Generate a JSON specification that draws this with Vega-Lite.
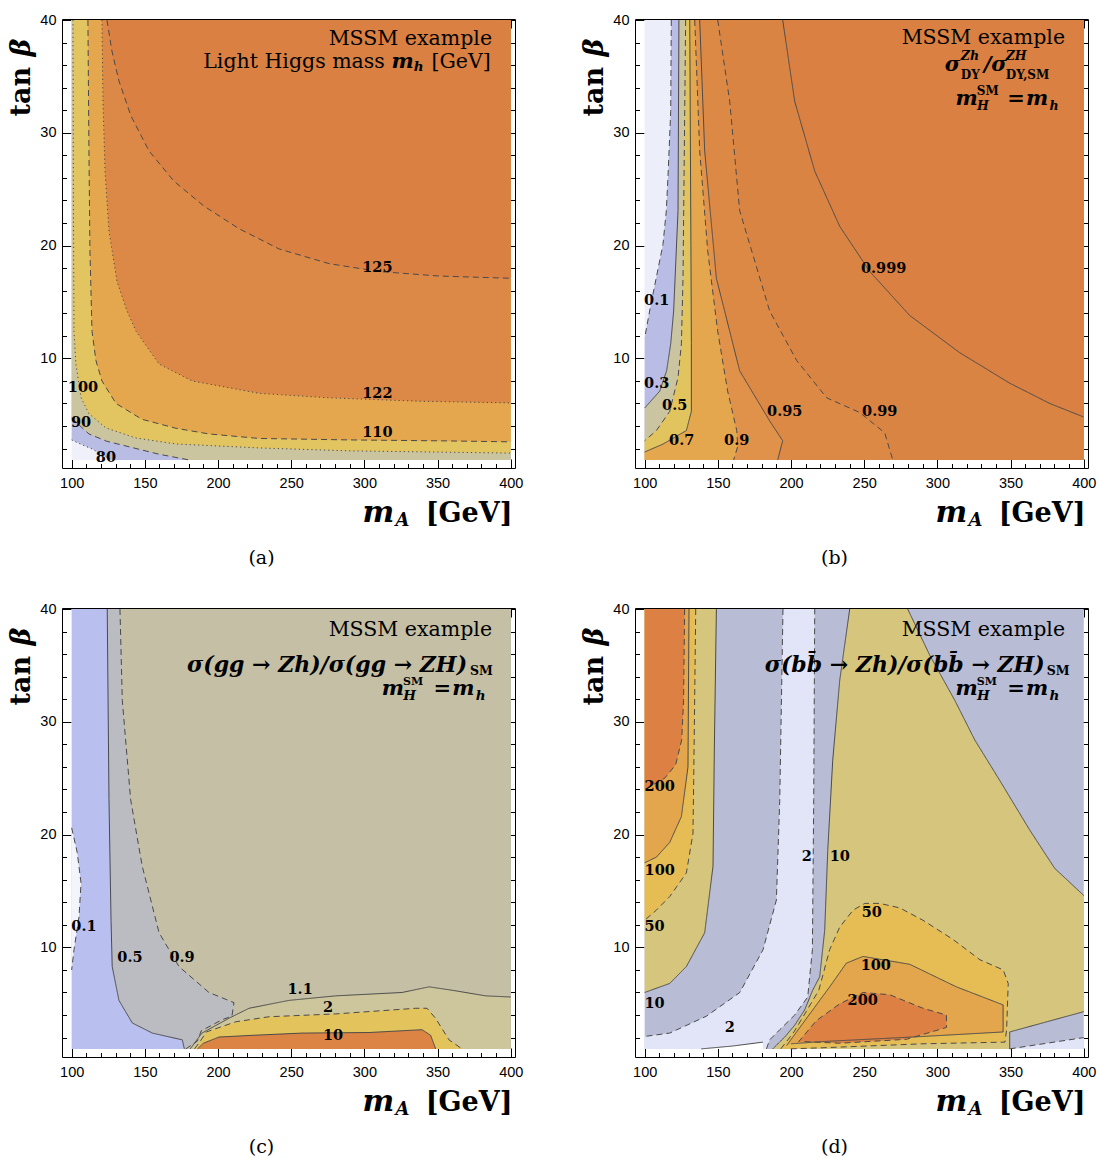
{
"$schema":"https://vega.github.io/schema/vega-lite/v6.json",
"background":"white",
"padding":{"left":6,"top":11,"right":0,"bottom":0},
"config":{
 "view":{"stroke":"#000","strokeWidth":1},
 "axis":{"domain":false,"grid":false,"tickColor":"#000","tickWidth":1,"labelFont":"Liberation Sans","labelFontSize":14.5,"labelColor":"#000","titleColor":"#000","titleFont":"DejaVu Serif"},
 "text":{"font":"DejaVu Serif","color":"#000"}
},
"resolve":{"scale":{"color":"independent","strokeDash":"independent"}},
"datasets":{
"A":[
{"shape":"A0","band":"<80","mA":100,"tanb":1},{"shape":"A0","band":"<80","mA":100,"tanb":40},{"shape":"A0","band":"<80","mA":400,"tanb":40},{"shape":"A0","band":"<80","mA":400,"tanb":1},
{"shape":"A80","band":"80–90","mA":100,"tanb":40},
{"shape":"A80","band":"80–90","mA":100,"tanb":2.77,"level":"80","run":"a80"},
{"shape":"A80","band":"80–90","mA":106,"tanb":2.4,"level":"80","run":"a80"},
{"shape":"A80","band":"80–90","mA":113.9,"tanb":1.97,"level":"80","run":"a80"},
{"shape":"A80","band":"80–90","mA":121,"tanb":1.45,"level":"80","run":"a80"},
{"shape":"A80","band":"80–90","mA":127.5,"tanb":1,"level":"80","run":"a80"},
{"shape":"A80","band":"80–90","mA":400,"tanb":1},{"shape":"A80","band":"80–90","mA":400,"tanb":40},
{"shape":"A90","band":"90–100","mA":100,"tanb":40},
{"shape":"A90","band":"90–100","mA":100,"tanb":4.7,"level":"90","run":"a90"},
{"shape":"A90","band":"90–100","mA":111.8,"tanb":3.3,"level":"90","run":"a90"},
{"shape":"A90","band":"90–100","mA":124,"tanb":2.65,"level":"90","run":"a90"},
{"shape":"A90","band":"90–100","mA":137.1,"tanb":2.23,"level":"90","run":"a90"},
{"shape":"A90","band":"90–100","mA":159.7,"tanb":1.5,"level":"90","run":"a90"},
{"shape":"A90","band":"90–100","mA":180,"tanb":1,"level":"90","run":"a90"},
{"shape":"A90","band":"90–100","mA":400,"tanb":1},{"shape":"A90","band":"90–100","mA":400,"tanb":40},
{"shape":"A100","band":"100–110","mA":100.9,"tanb":40,"level":"100","run":"a100"},
{"shape":"A100","band":"100–110","mA":101.2,"tanb":24,"level":"100","run":"a100"},
{"shape":"A100","band":"100–110","mA":101.6,"tanb":12.4,"level":"100","run":"a100"},
{"shape":"A100","band":"100–110","mA":102.9,"tanb":9.5,"level":"100","run":"a100"},
{"shape":"A100","band":"100–110","mA":106.4,"tanb":6.5,"level":"100","run":"a100"},
{"shape":"A100","band":"100–110","mA":111.8,"tanb":5.1,"level":"100","run":"a100"},
{"shape":"A100","band":"100–110","mA":123.4,"tanb":3.83,"level":"100","run":"a100"},
{"shape":"A100","band":"100–110","mA":143.9,"tanb":2.94,"level":"100","run":"a100"},
{"shape":"A100","band":"100–110","mA":171.3,"tanb":2.41,"level":"100","run":"a100"},
{"shape":"A100","band":"100–110","mA":228,"tanb":2.06,"level":"100","run":"a100"},
{"shape":"A100","band":"100–110","mA":289.5,"tanb":1.8,"level":"100","run":"a100"},
{"shape":"A100","band":"100–110","mA":400,"tanb":1.6,"level":"100","run":"a100"},
{"shape":"A100","band":"100–110","mA":400,"tanb":40},
{"shape":"A110","band":"110–122","mA":111.1,"tanb":40,"level":"110","run":"a110"},
{"shape":"A110","band":"110–122","mA":111.8,"tanb":28.4,"level":"110","run":"a110"},
{"shape":"A110","band":"110–122","mA":112.5,"tanb":19.5,"level":"110","run":"a110"},
{"shape":"A110","band":"110–122","mA":113.9,"tanb":12.4,"level":"110","run":"a110"},
{"shape":"A110","band":"110–122","mA":116.6,"tanb":9.8,"level":"110","run":"a110"},
{"shape":"A110","band":"110–122","mA":120.7,"tanb":8,"level":"110","run":"a110"},
{"shape":"A110","band":"110–122","mA":130.3,"tanb":6,"level":"110","run":"a110"},
{"shape":"A110","band":"110–122","mA":148,"tanb":4.6,"level":"110","run":"a110"},
{"shape":"A110","band":"110–122","mA":171.3,"tanb":3.8,"level":"110","run":"a110"},
{"shape":"A110","band":"110–122","mA":193.8,"tanb":3.3,"level":"110","run":"a110"},
{"shape":"A110","band":"110–122","mA":228,"tanb":2.9,"level":"110","run":"a110"},
{"shape":"A110","band":"110–122","mA":289.5,"tanb":2.77,"level":"110","run":"a110"},
{"shape":"A110","band":"110–122","mA":357.8,"tanb":2.68,"level":"110","run":"a110"},
{"shape":"A110","band":"110–122","mA":400,"tanb":2.6,"level":"110","run":"a110"},
{"shape":"A110","band":"110–122","mA":400,"tanb":40},
{"shape":"A122","band":"122–125","mA":120.7,"tanb":40,"level":"122","run":"a122"},
{"shape":"A122","band":"122–125","mA":121.4,"tanb":32.8,"level":"122","run":"a122"},
{"shape":"A122","band":"122–125","mA":122.8,"tanb":26.6,"level":"122","run":"a122"},
{"shape":"A122","band":"122–125","mA":125.5,"tanb":21.3,"level":"122","run":"a122"},
{"shape":"A122","band":"122–125","mA":131,"tanb":16.8,"level":"122","run":"a122"},
{"shape":"A122","band":"122–125","mA":137.8,"tanb":14.2,"level":"122","run":"a122"},
{"shape":"A122","band":"122–125","mA":144,"tanb":12.4,"level":"122","run":"a122"},
{"shape":"A122","band":"122–125","mA":159.7,"tanb":9.5,"level":"122","run":"a122"},
{"shape":"A122","band":"122–125","mA":182.3,"tanb":8,"level":"122","run":"a122"},
{"shape":"A122","band":"122–125","mA":228,"tanb":6.9,"level":"122","run":"a122"},
{"shape":"A122","band":"122–125","mA":275.9,"tanb":6.5,"level":"122","run":"a122"},
{"shape":"A122","band":"122–125","mA":337.4,"tanb":6.2,"level":"122","run":"a122"},
{"shape":"A122","band":"122–125","mA":400,"tanb":6.05,"level":"122","run":"a122"},
{"shape":"A122","band":"122–125","mA":400,"tanb":40},
{"shape":"A125","band":">125","mA":124.1,"tanb":40,"level":"125","run":"a125"},
{"shape":"A125","band":">125","mA":127.5,"tanb":37.25,"level":"125","run":"a125"},
{"shape":"A125","band":">125","mA":132.3,"tanb":34.6,"level":"125","run":"a125"},
{"shape":"A125","band":">125","mA":140.5,"tanb":31.5,"level":"125","run":"a125"},
{"shape":"A125","band":">125","mA":152.8,"tanb":28.4,"level":"125","run":"a125"},
{"shape":"A125","band":">125","mA":169.9,"tanb":25.7,"level":"125","run":"a125"},
{"shape":"A125","band":">125","mA":190.4,"tanb":23.5,"level":"125","run":"a125"},
{"shape":"A125","band":">125","mA":214.3,"tanb":21.5,"level":"125","run":"a125"},
{"shape":"A125","band":">125","mA":241.7,"tanb":19.7,"level":"125","run":"a125"},
{"shape":"A125","band":">125","mA":275.8,"tanb":18.4,"level":"125","run":"a125"},
{"shape":"A125","band":">125","mA":310,"tanb":17.7,"level":"125","run":"a125"},
{"shape":"A125","band":">125","mA":351,"tanb":17.3,"level":"125","run":"a125"},
{"shape":"A125","band":">125","mA":400,"tanb":17.1,"level":"125","run":"a125"},
{"shape":"A125","band":">125","mA":400,"tanb":40}
],
"B":[
{"shape":"B0","band":"<0.1","mA":100,"tanb":1},{"shape":"B0","band":"<0.1","mA":100,"tanb":40},{"shape":"B0","band":"<0.1","mA":400,"tanb":40},{"shape":"B0","band":"<0.1","mA":400,"tanb":1},
{"shape":"B1","band":"0.1–0.3","mA":118.2,"tanb":40,"level":"0.1","run":"b1"},
{"shape":"B1","band":"0.1–0.3","mA":117.8,"tanb":31.9,"level":"0.1","run":"b1"},
{"shape":"B1","band":"0.1–0.3","mA":115.9,"tanb":26,"level":"0.1","run":"b1"},
{"shape":"B1","band":"0.1–0.3","mA":114.8,"tanb":23.1,"level":"0.1","run":"b1"},
{"shape":"B1","band":"0.1–0.3","mA":112.5,"tanb":20.1,"level":"0.1","run":"b1"},
{"shape":"B1","band":"0.1–0.3","mA":108,"tanb":17.2,"level":"0.1","run":"b1"},
{"shape":"B1","band":"0.1–0.3","mA":103.4,"tanb":14.2,"level":"0.1","run":"b1"},
{"shape":"B1","band":"0.1–0.3","mA":100,"tanb":11.8,"level":"0.1","run":"b1"},
{"shape":"B1","band":"0.1–0.3","mA":100,"tanb":1},{"shape":"B1","band":"0.1–0.3","mA":400,"tanb":1},{"shape":"B1","band":"0.1–0.3","mA":400,"tanb":40},
{"shape":"B3","band":"0.3–0.5","mA":123.4,"tanb":40,"level":"0.3","run":"b3"},
{"shape":"B3","band":"0.3–0.5","mA":122.8,"tanb":23.1,"level":"0.3","run":"b3"},
{"shape":"B3","band":"0.3–0.5","mA":119.8,"tanb":14.2,"level":"0.3","run":"b3"},
{"shape":"B3","band":"0.3–0.5","mA":117.8,"tanb":11.3,"level":"0.3","run":"b3"},
{"shape":"B3","band":"0.3–0.5","mA":115,"tanb":8.9,"level":"0.3","run":"b3"},
{"shape":"B3","band":"0.3–0.5","mA":110.3,"tanb":7.1,"level":"0.3","run":"b3"},
{"shape":"B3","band":"0.3–0.5","mA":100,"tanb":5.6,"level":"0.3","run":"b3"},
{"shape":"B3","band":"0.3–0.5","mA":100,"tanb":1},{"shape":"B3","band":"0.3–0.5","mA":400,"tanb":1},{"shape":"B3","band":"0.3–0.5","mA":400,"tanb":40},
{"shape":"B5","band":"0.5–0.7","mA":128,"tanb":40,"level":"0.5","run":"b5"},
{"shape":"B5","band":"0.5–0.7","mA":126.2,"tanb":17.1,"level":"0.5","run":"b5"},
{"shape":"B5","band":"0.5–0.7","mA":125.1,"tanb":11.3,"level":"0.5","run":"b5"},
{"shape":"B5","band":"0.5–0.7","mA":122.8,"tanb":8.3,"level":"0.5","run":"b5"},
{"shape":"B5","band":"0.5–0.7","mA":117.1,"tanb":5.3,"level":"0.5","run":"b5"},
{"shape":"B5","band":"0.5–0.7","mA":108,"tanb":3.6,"level":"0.5","run":"b5"},
{"shape":"B5","band":"0.5–0.7","mA":100,"tanb":2.7,"level":"0.5","run":"b5"},
{"shape":"B5","band":"0.5–0.7","mA":100,"tanb":1},{"shape":"B5","band":"0.5–0.7","mA":400,"tanb":1},{"shape":"B5","band":"0.5–0.7","mA":400,"tanb":40},
{"shape":"B7","band":"0.7–0.9","mA":130.8,"tanb":40,"level":"0.7","run":"b7"},
{"shape":"B7","band":"0.7–0.9","mA":131.6,"tanb":20,"level":"0.7","run":"b7"},
{"shape":"B7","band":"0.7–0.9","mA":131.9,"tanb":11.3,"level":"0.7","run":"b7"},
{"shape":"B7","band":"0.7–0.9","mA":131.9,"tanb":5.3,"level":"0.7","run":"b7"},
{"shape":"B7","band":"0.7–0.9","mA":128.5,"tanb":3.6,"level":"0.7","run":"b7"},
{"shape":"B7","band":"0.7–0.9","mA":112.5,"tanb":2.4,"level":"0.7","run":"b7"},
{"shape":"B7","band":"0.7–0.9","mA":100,"tanb":1.7,"level":"0.7","run":"b7"},
{"shape":"B7","band":"0.7–0.9","mA":100,"tanb":1},{"shape":"B7","band":"0.7–0.9","mA":400,"tanb":1},{"shape":"B7","band":"0.7–0.9","mA":400,"tanb":40},
{"shape":"B9","band":"0.9–0.95","mA":134.2,"tanb":40,"level":"0.9","run":"b9"},
{"shape":"B9","band":"0.9–0.95","mA":137.6,"tanb":28.4,"level":"0.9","run":"b9"},
{"shape":"B9","band":"0.9–0.95","mA":143.1,"tanb":19.5,"level":"0.9","run":"b9"},
{"shape":"B9","band":"0.9–0.95","mA":149.9,"tanb":12.4,"level":"0.9","run":"b9"},
{"shape":"B9","band":"0.9–0.95","mA":156.7,"tanb":7.1,"level":"0.9","run":"b9"},
{"shape":"B9","band":"0.9–0.95","mA":162.9,"tanb":3.6,"level":"0.9","run":"b9"},
{"shape":"B9","band":"0.9–0.95","mA":163.6,"tanb":2.2,"level":"0.9","run":"b9"},
{"shape":"B9","band":"0.9–0.95","mA":160.8,"tanb":1,"level":"0.9","run":"b9"},
{"shape":"B9","band":"0.9–0.95","mA":400,"tanb":1},{"shape":"B9","band":"0.9–0.95","mA":400,"tanb":40},
{"shape":"B95","band":"0.95–0.99","mA":137.6,"tanb":40,"level":"0.95","run":"b95"},
{"shape":"B95","band":"0.95–0.99","mA":141,"tanb":28.4,"level":"0.95","run":"b95"},
{"shape":"B95","band":"0.95–0.99","mA":149,"tanb":17.1,"level":"0.95","run":"b95"},
{"shape":"B95","band":"0.95–0.99","mA":164.9,"tanb":8.9,"level":"0.95","run":"b95"},
{"shape":"B95","band":"0.95–0.99","mA":185.4,"tanb":4.45,"level":"0.95","run":"b95"},
{"shape":"B95","band":"0.95–0.99","mA":194.3,"tanb":2.7,"level":"0.95","run":"b95"},
{"shape":"B95","band":"0.95–0.99","mA":190.9,"tanb":1,"level":"0.95","run":"b95"},
{"shape":"B95","band":"0.95–0.99","mA":400,"tanb":1},{"shape":"B95","band":"0.95–0.99","mA":400,"tanb":40},
{"shape":"B99","band":"0.99–0.999","mA":149.9,"tanb":40,"level":"0.99","run":"b99"},
{"shape":"B99","band":"0.99–0.999","mA":158.1,"tanb":32.8,"level":"0.99","run":"b99"},
{"shape":"B99","band":"0.99–0.999","mA":164.9,"tanb":23.1,"level":"0.99","run":"b99"},
{"shape":"B99","band":"0.99–0.999","mA":185.4,"tanb":14.2,"level":"0.99","run":"b99"},
{"shape":"B99","band":"0.99–0.999","mA":203.9,"tanb":9.8,"level":"0.99","run":"b99"},
{"shape":"B99","band":"0.99–0.999","mA":224.4,"tanb":6.5,"level":"0.99","run":"b99"},
{"shape":"B99","band":"0.99–0.999","mA":246.9,"tanb":5.2,"level":"0.99","run":"b99"},
{"shape":"B99","band":"0.99–0.999","mA":264,"tanb":3.4,"level":"0.99","run":"b99"},
{"shape":"B99","band":"0.99–0.999","mA":269.5,"tanb":1,"level":"0.99","run":"b99"},
{"shape":"B99","band":"0.99–0.999","mA":400,"tanb":1},{"shape":"B99","band":"0.99–0.999","mA":400,"tanb":40},
{"shape":"B999","band":">0.999","mA":194.3,"tanb":40,"level":"0.999","run":"b999"},
{"shape":"B999","band":">0.999","mA":202.5,"tanb":32.8,"level":"0.999","run":"b999"},
{"shape":"B999","band":">0.999","mA":216.2,"tanb":26.6,"level":"0.999","run":"b999"},
{"shape":"B999","band":">0.999","mA":233.3,"tanb":21.7,"level":"0.999","run":"b999"},
{"shape":"B999","band":">0.999","mA":253.8,"tanb":17.7,"level":"0.999","run":"b999"},
{"shape":"B999","band":">0.999","mA":281.1,"tanb":13.8,"level":"0.999","run":"b999"},
{"shape":"B999","band":">0.999","mA":315.3,"tanb":10.5,"level":"0.999","run":"b999"},
{"shape":"B999","band":">0.999","mA":349.4,"tanb":7.8,"level":"0.999","run":"b999"},
{"shape":"B999","band":">0.999","mA":376.8,"tanb":6,"level":"0.999","run":"b999"},
{"shape":"B999","band":">0.999","mA":400,"tanb":4.8,"level":"0.999","run":"b999"},
{"shape":"B999","band":">0.999","mA":400,"tanb":40}
],
"C":[
{"shape":"C0","band":"0.1–0.5","mA":100,"tanb":1},{"shape":"C0","band":"0.1–0.5","mA":100,"tanb":40},{"shape":"C0","band":"0.1–0.5","mA":400,"tanb":40},{"shape":"C0","band":"0.1–0.5","mA":400,"tanb":1},
{"shape":"C1","band":"<0.1","mA":100,"tanb":20.6,"level":"0.1","run":"c1"},
{"shape":"C1","band":"<0.1","mA":103.8,"tanb":18.4,"level":"0.1","run":"c1"},
{"shape":"C1","band":"<0.1","mA":106.4,"tanb":15.7,"level":"0.1","run":"c1"},
{"shape":"C1","band":"<0.1","mA":105,"tanb":12.7,"level":"0.1","run":"c1"},
{"shape":"C1","band":"<0.1","mA":101.6,"tanb":9.8,"level":"0.1","run":"c1"},
{"shape":"C1","band":"<0.1","mA":100,"tanb":8,"level":"0.1","run":"c1"},
{"shape":"C5","band":"0.5–0.9","mA":124.3,"tanb":40,"level":"0.5","run":"c5"},
{"shape":"C5","band":"0.5–0.9","mA":125.5,"tanb":23.1,"level":"0.5","run":"c5"},
{"shape":"C5","band":"0.5–0.9","mA":126.9,"tanb":12.4,"level":"0.5","run":"c5"},
{"shape":"C5","band":"0.5–0.9","mA":127.7,"tanb":8.3,"level":"0.5","run":"c5"},
{"shape":"C5","band":"0.5–0.9","mA":132.3,"tanb":5.3,"level":"0.5","run":"c5"},
{"shape":"C5","band":"0.5–0.9","mA":141.4,"tanb":3.3,"level":"0.5","run":"c5"},
{"shape":"C5","band":"0.5–0.9","mA":155.1,"tanb":2.4,"level":"0.5","run":"c5"},
{"shape":"C5","band":"0.5–0.9","mA":175.6,"tanb":1.8,"level":"0.5","run":"c5"},
{"shape":"C5","band":"0.5–0.9","mA":177,"tanb":1,"level":"0.5","run":"c5"},
{"shape":"C5","band":"0.5–0.9","mA":400,"tanb":1},{"shape":"C5","band":"0.5–0.9","mA":400,"tanb":40},
{"shape":"C9","band":"0.9–1.1","mA":133,"tanb":40,"level":"0.9","run":"c9"},
{"shape":"C9","band":"0.9–1.1","mA":134.6,"tanb":31.9,"level":"0.9","run":"c9"},
{"shape":"C9","band":"0.9–1.1","mA":140.3,"tanb":23.1,"level":"0.9","run":"c9"},
{"shape":"C9","band":"0.9–1.1","mA":148.2,"tanb":17.2,"level":"0.9","run":"c9"},
{"shape":"C9","band":"0.9–1.1","mA":159.7,"tanb":11.3,"level":"0.9","run":"c9"},
{"shape":"C9","band":"0.9–1.1","mA":173.3,"tanb":8.3,"level":"0.9","run":"c9"},
{"shape":"C9","band":"0.9–1.1","mA":193.8,"tanb":6,"level":"0.9","run":"c9"},
{"shape":"C9","band":"0.9–1.1","mA":210.9,"tanb":5.1,"level":"0.9","run":"c9"},
{"shape":"C9","band":"0.9–1.1","mA":209.5,"tanb":3.9,"level":"0.9","run":"c9"},
{"shape":"C9","band":"0.9–1.1","mA":203,"tanb":3.6,"level":"0.9","run":"c9"},
{"shape":"C9","band":"0.9–1.1","mA":188.5,"tanb":2.6,"level":"0.9","run":"c9"},
{"shape":"C9","band":"0.9–1.1","mA":186,"tanb":1.7,"level":"0.9","run":"c9"},
{"shape":"C9","band":"0.9–1.1","mA":178,"tanb":1,"level":"0.9","run":"c9"},
{"shape":"C9","band":"0.9–1.1","mA":400,"tanb":1},{"shape":"C9","band":"0.9–1.1","mA":400,"tanb":40},
{"shape":"C11","band":"1.1–2","mA":181,"tanb":1,"level":"1.1","run":"c11"},
{"shape":"C11","band":"1.1–2","mA":189,"tanb":2.4,"level":"1.1","run":"c11"},
{"shape":"C11","band":"1.1–2","mA":208,"tanb":3.75,"level":"1.1","run":"c11"},
{"shape":"C11","band":"1.1–2","mA":221.2,"tanb":4.6,"level":"1.1","run":"c11"},
{"shape":"C11","band":"1.1–2","mA":248.5,"tanb":5.3,"level":"1.1","run":"c11"},
{"shape":"C11","band":"1.1–2","mA":280.4,"tanb":5.7,"level":"1.1","run":"c11"},
{"shape":"C11","band":"1.1–2","mA":325.7,"tanb":6,"level":"1.1","run":"c11"},
{"shape":"C11","band":"1.1–2","mA":344.2,"tanb":6.5,"level":"1.1","run":"c11"},
{"shape":"C11","band":"1.1–2","mA":359.9,"tanb":6.2,"level":"1.1","run":"c11"},
{"shape":"C11","band":"1.1–2","mA":382.9,"tanb":5.7,"level":"1.1","run":"c11"},
{"shape":"C11","band":"1.1–2","mA":400,"tanb":5.6,"level":"1.1","run":"c11"},
{"shape":"C11","band":"1.1–2","mA":400,"tanb":1},
{"shape":"C2","band":"2–10","mA":184,"tanb":1,"level":"2","run":"c2"},
{"shape":"C2","band":"2–10","mA":188,"tanb":1.7,"level":"2","run":"c2"},
{"shape":"C2","band":"2–10","mA":192,"tanb":2.5,"level":"2","run":"c2"},
{"shape":"C2","band":"2–10","mA":212.1,"tanb":3.4,"level":"2","run":"c2"},
{"shape":"C2","band":"2–10","mA":234.8,"tanb":3.85,"level":"2","run":"c2"},
{"shape":"C2","band":"2–10","mA":280.4,"tanb":4.1,"level":"2","run":"c2"},
{"shape":"C2","band":"2–10","mA":335.1,"tanb":4.6,"level":"2","run":"c2"},
{"shape":"C2","band":"2–10","mA":342.8,"tanb":4.6,"level":"2","run":"c2"},
{"shape":"C2","band":"2–10","mA":348.7,"tanb":3.7,"level":"2","run":"c2"},
{"shape":"C2","band":"2–10","mA":357.8,"tanb":1.8,"level":"2","run":"c2"},
{"shape":"C2","band":"2–10","mA":366.7,"tanb":1,"level":"2","run":"c2"},
{"shape":"C10","band":">10","mA":186,"tanb":1,"level":"10","run":"c10"},
{"shape":"C10","band":">10","mA":190,"tanb":1.5,"level":"10","run":"c10"},
{"shape":"C10","band":">10","mA":200.7,"tanb":2.05,"level":"10","run":"c10"},
{"shape":"C10","band":">10","mA":223.2,"tanb":2.2,"level":"10","run":"c10"},
{"shape":"C10","band":">10","mA":257.4,"tanb":2.4,"level":"10","run":"c10"},
{"shape":"C10","band":">10","mA":303.2,"tanb":2.45,"level":"10","run":"c10"},
{"shape":"C10","band":">10","mA":339.4,"tanb":2.7,"level":"10","run":"c10"},
{"shape":"C10","band":">10","mA":345.3,"tanb":2.2,"level":"10","run":"c10"},
{"shape":"C10","band":">10","mA":348.7,"tanb":1,"level":"10","run":"c10"}
],
"D":[
{"shape":"D0","band":"2–10","mA":100,"tanb":1},{"shape":"D0","band":"2–10","mA":100,"tanb":40},{"shape":"D0","band":"2–10","mA":400,"tanb":40},{"shape":"D0","band":"2–10","mA":400,"tanb":1},
{"shape":"D1","band":"<2","mA":194.5,"tanb":40,"level":"2","run":"d2a"},
{"shape":"D1","band":"<2","mA":192.3,"tanb":23.1,"level":"2","run":"d2a"},
{"shape":"D1","band":"<2","mA":190,"tanb":14.2,"level":"2","run":"d2a"},
{"shape":"D1","band":"<2","mA":180.9,"tanb":9.8,"level":"2","run":"d2a"},
{"shape":"D1","band":"<2","mA":165,"tanb":6,"level":"2","run":"d2a"},
{"shape":"D1","band":"<2","mA":142.2,"tanb":3.9,"level":"2","run":"d2a"},
{"shape":"D1","band":"<2","mA":117.1,"tanb":2.4,"level":"2","run":"d2a"},
{"shape":"D1","band":"<2","mA":100,"tanb":2.1,"level":"2","run":"d2a"},
{"shape":"D1","band":"<2","mA":100,"tanb":1},
{"shape":"D1","band":"<2","mA":183.2,"tanb":1,"level":"2","run":"d2b"},
{"shape":"D1","band":"<2","mA":185.4,"tanb":1.8,"level":"2","run":"d2b"},
{"shape":"D1","band":"<2","mA":192.3,"tanb":2.7,"level":"2","run":"d2b"},
{"shape":"D1","band":"<2","mA":202.5,"tanb":4,"level":"2","run":"d2b"},
{"shape":"D1","band":"<2","mA":211.4,"tanb":5.6,"level":"2","run":"d2b"},
{"shape":"D1","band":"<2","mA":214.6,"tanb":9.8,"level":"2","run":"d2b"},
{"shape":"D1","band":"<2","mA":215.5,"tanb":23.1,"level":"2","run":"d2b"},
{"shape":"D1","band":"<2","mA":216.2,"tanb":40,"level":"2","run":"d2b"},
{"shape":"D1w","band":"<1","mA":138.7,"tanb":1,"level":"1","run":"d1"},
{"shape":"D1w","band":"<1","mA":160,"tanb":1.25,"level":"1","run":"d1"},
{"shape":"D1w","band":"<1","mA":180.8,"tanb":1.6,"level":"1","run":"d1"},
{"shape":"D1w","band":"<1","mA":180.8,"tanb":1},
{"shape":"D10L","band":"10–50","mA":100,"tanb":40},
{"shape":"D10L","band":"10–50","mA":149,"tanb":40,"level":"10","run":"d10a"},
{"shape":"D10L","band":"10–50","mA":147.6,"tanb":27.5,"level":"10","run":"d10a"},
{"shape":"D10L","band":"10–50","mA":146.7,"tanb":17.2,"level":"10","run":"d10a"},
{"shape":"D10L","band":"10–50","mA":141,"tanb":11.3,"level":"10","run":"d10a"},
{"shape":"D10L","band":"10–50","mA":128.5,"tanb":8.3,"level":"10","run":"d10a"},
{"shape":"D10L","band":"10–50","mA":117.1,"tanb":6.8,"level":"10","run":"d10a"},
{"shape":"D10L","band":"10–50","mA":100,"tanb":6,"level":"10","run":"d10a"},
{"shape":"D50L","band":"50–100","mA":100,"tanb":40},
{"shape":"D50L","band":"50–100","mA":134.9,"tanb":40,"level":"50","run":"d50a"},
{"shape":"D50L","band":"50–100","mA":133.5,"tanb":24.8,"level":"50","run":"d50a"},
{"shape":"D50L","band":"50–100","mA":133,"tanb":20.1,"level":"50","run":"d50a"},
{"shape":"D50L","band":"50–100","mA":128.5,"tanb":16.6,"level":"50","run":"d50a"},
{"shape":"D50L","band":"50–100","mA":117.1,"tanb":14.5,"level":"50","run":"d50a"},
{"shape":"D50L","band":"50–100","mA":108,"tanb":13.3,"level":"50","run":"d50a"},
{"shape":"D50L","band":"50–100","mA":100,"tanb":12.4,"level":"50","run":"d50a"},
{"shape":"D100L","band":"100–200","mA":100,"tanb":40},
{"shape":"D100L","band":"100–200","mA":130.3,"tanb":40,"level":"100","run":"d100a"},
{"shape":"D100L","band":"100–200","mA":129.6,"tanb":26,"level":"100","run":"d100a"},
{"shape":"D100L","band":"100–200","mA":125.1,"tanb":21.6,"level":"100","run":"d100a"},
{"shape":"D100L","band":"100–200","mA":117.1,"tanb":19.3,"level":"100","run":"d100a"},
{"shape":"D100L","band":"100–200","mA":108,"tanb":18,"level":"100","run":"d100a"},
{"shape":"D100L","band":"100–200","mA":100,"tanb":17.5,"level":"100","run":"d100a"},
{"shape":"D200L","band":">200","mA":100,"tanb":40},
{"shape":"D200L","band":">200","mA":127.3,"tanb":40,"level":"200","run":"d200a"},
{"shape":"D200L","band":">200","mA":126.6,"tanb":31.9,"level":"200","run":"d200a"},
{"shape":"D200L","band":">200","mA":125.3,"tanb":28.4,"level":"200","run":"d200a"},
{"shape":"D200L","band":">200","mA":121.2,"tanb":26.2,"level":"200","run":"d200a"},
{"shape":"D200L","band":">200","mA":113.7,"tanb":25,"level":"200","run":"d200a"},
{"shape":"D200L","band":">200","mA":100,"tanb":24,"level":"200","run":"d200a"},
{"shape":"D10R","band":"10–50","mA":240.1,"tanb":40,"level":"10","run":"d10b"},
{"shape":"D10R","band":"10–50","mA":233.3,"tanb":33.7,"level":"10","run":"d10b"},
{"shape":"D10R","band":"10–50","mA":228.5,"tanb":26.6,"level":"10","run":"d10b"},
{"shape":"D10R","band":"10–50","mA":225.1,"tanb":18.6,"level":"10","run":"d10b"},
{"shape":"D10R","band":"10–50","mA":223,"tanb":11.5,"level":"10","run":"d10b"},
{"shape":"D10R","band":"10–50","mA":219.6,"tanb":7.4,"level":"10","run":"d10b"},
{"shape":"D10R","band":"10–50","mA":214.8,"tanb":6.2,"level":"10","run":"d10b"},
{"shape":"D10R","band":"10–50","mA":209.3,"tanb":4.45,"level":"10","run":"d10b"},
{"shape":"D10R","band":"10–50","mA":202.5,"tanb":3.1,"level":"10","run":"d10b"},
{"shape":"D10R","band":"10–50","mA":195.7,"tanb":2.05,"level":"10","run":"d10b"},
{"shape":"D10R","band":"10–50","mA":187.5,"tanb":1,"level":"10","run":"d10b"},
{"shape":"D10R","band":"10–50","mA":349.4,"tanb":1,"level":"10","run":"d10c"},
{"shape":"D10R","band":"10–50","mA":349.4,"tanb":2.5,"level":"10","run":"d10c"},
{"shape":"D10R","band":"10–50","mA":400,"tanb":4.3,"level":"10","run":"d10c"},
{"shape":"D10R","band":"10–50","mA":400,"tanb":14.6,"level":"10","run":"d10d"},
{"shape":"D10R","band":"10–50","mA":380.2,"tanb":17,"level":"10","run":"d10d"},
{"shape":"D10R","band":"10–50","mA":363.1,"tanb":20.4,"level":"10","run":"d10d"},
{"shape":"D10R","band":"10–50","mA":342.6,"tanb":24.8,"level":"10","run":"d10d"},
{"shape":"D10R","band":"10–50","mA":325.5,"tanb":28.4,"level":"10","run":"d10d"},
{"shape":"D10R","band":"10–50","mA":311.9,"tanb":31.9,"level":"10","run":"d10d"},
{"shape":"D10R","band":"10–50","mA":294.8,"tanb":35.9,"level":"10","run":"d10d"},
{"shape":"D10R","band":"10–50","mA":279.7,"tanb":40,"level":"10","run":"d10d"},
{"shape":"D50R","band":"50–100","mA":193,"tanb":1,"level":"50","run":"d50b"},
{"shape":"D50R","band":"50–100","mA":202,"tanb":2.5,"level":"50","run":"d50b"},
{"shape":"D50R","band":"50–100","mA":211,"tanb":4.45,"level":"50","run":"d50b"},
{"shape":"D50R","band":"50–100","mA":219,"tanb":6.2,"level":"50","run":"d50b"},
{"shape":"D50R","band":"50–100","mA":226.4,"tanb":9.8,"level":"50","run":"d50b"},
{"shape":"D50R","band":"50–100","mA":233.3,"tanb":11.8,"level":"50","run":"d50b"},
{"shape":"D50R","band":"50–100","mA":242.4,"tanb":13.3,"level":"50","run":"d50b"},
{"shape":"D50R","band":"50–100","mA":250.4,"tanb":13.9,"level":"50","run":"d50b"},
{"shape":"D50R","band":"50–100","mA":260.6,"tanb":13.9,"level":"50","run":"d50b"},
{"shape":"D50R","band":"50–100","mA":274.3,"tanb":13.5,"level":"50","run":"d50b"},
{"shape":"D50R","band":"50–100","mA":290.2,"tanb":12.4,"level":"50","run":"d50b"},
{"shape":"D50R","band":"50–100","mA":310.7,"tanb":10.7,"level":"50","run":"d50b"},
{"shape":"D50R","band":"50–100","mA":329.1,"tanb":8.9,"level":"50","run":"d50b"},
{"shape":"D50R","band":"50–100","mA":345,"tanb":8,"level":"50","run":"d50b"},
{"shape":"D50R","band":"50–100","mA":348.4,"tanb":6.8,"level":"50","run":"d50b"},
{"shape":"D50R","band":"50–100","mA":347.3,"tanb":2.7,"level":"50","run":"d50b"},
{"shape":"D50R","band":"50–100","mA":346.2,"tanb":1.6,"level":"50","run":"d50b"},
{"shape":"D50R","band":"50–100","mA":290.2,"tanb":1.45,"level":"50","run":"d50b"},
{"shape":"D50R","band":"50–100","mA":221.9,"tanb":1.1,"level":"50","run":"d50b"},
{"shape":"D50R","band":"50–100","mA":199.1,"tanb":1,"level":"50","run":"d50b"},
{"shape":"D100R","band":"100–200","mA":197,"tanb":1.3,"level":"100","run":"d100b"},
{"shape":"D100R","band":"100–200","mA":208,"tanb":3.25,"level":"100","run":"d100b"},
{"shape":"D100R","band":"100–200","mA":226.4,"tanb":6.5,"level":"100","run":"d100b"},
{"shape":"D100R","band":"100–200","mA":237.8,"tanb":8.6,"level":"100","run":"d100b"},
{"shape":"D100R","band":"100–200","mA":249.2,"tanb":9.2,"level":"100","run":"d100b"},
{"shape":"D100R","band":"100–200","mA":262.8,"tanb":8.9,"level":"100","run":"d100b"},
{"shape":"D100R","band":"100–200","mA":281.1,"tanb":8.5,"level":"100","run":"d100b"},
{"shape":"D100R","band":"100–200","mA":313,"tanb":6.5,"level":"100","run":"d100b"},
{"shape":"D100R","band":"100–200","mA":344.9,"tanb":4.9,"level":"100","run":"d100b"},
{"shape":"D100R","band":"100–200","mA":344.9,"tanb":2.5,"level":"100","run":"d100b"},
{"shape":"D100R","band":"100–200","mA":290.2,"tanb":2.1,"level":"100","run":"d100b"},
{"shape":"D100R","band":"100–200","mA":221.9,"tanb":1.65,"level":"100","run":"d100b"},
{"shape":"D100R","band":"100–200","mA":200,"tanb":1.45,"level":"100","run":"d100b"},
{"shape":"D200R","band":">200","mA":205,"tanb":1.6,"level":"200","run":"d200b"},
{"shape":"D200R","band":">200","mA":217.3,"tanb":3.5,"level":"200","run":"d200b"},
{"shape":"D200R","band":">200","mA":233.3,"tanb":5,"level":"200","run":"d200b"},
{"shape":"D200R","band":">200","mA":249.2,"tanb":6,"level":"200","run":"d200b"},
{"shape":"D200R","band":">200","mA":267.4,"tanb":5.8,"level":"200","run":"d200b"},
{"shape":"D200R","band":">200","mA":290.2,"tanb":4.6,"level":"200","run":"d200b"},
{"shape":"D200R","band":">200","mA":306.2,"tanb":4,"level":"200","run":"d200b"},
{"shape":"D200R","band":">200","mA":306.2,"tanb":2.9,"level":"200","run":"d200b"},
{"shape":"D200R","band":">200","mA":278.9,"tanb":1.85,"level":"200","run":"d200b"},
{"shape":"D200R","band":">200","mA":233.3,"tanb":1.5,"level":"200","run":"d200b"},
{"shape":"D200R","band":">200","mA":208,"tanb":1.65,"level":"200","run":"d200b"},
{"shape":"D2BR","band":"<2","mA":349.4,"tanb":1,"level":"2","run":"d2c"},
{"shape":"D2BR","band":"<2","mA":400,"tanb":2,"level":"2","run":"d2c"},
{"shape":"D2BR","band":"<2","mA":400,"tanb":1}
]
},
"columns":2,
"spacing":{"row":140,"column":120},
"bounds":"flush",
"concat":[
{
 "width":453,"height":449,
 "title":{"text":"(a)","orient":"bottom","frame":"group","anchor":"middle","dx":-27,"offset":20,"font":"DejaVu Serif","fontSize":19,"fontWeight":"normal","color":"#000"},
 "resolve":{"axis":{"x":"independent","y":"independent"}},
 "layer":[
  {"data":{"name":"A"},"mark":{"type":"line","filled":true,"interpolate":"linear-closed","strokeWidth":0},
   "encoding":{
    "x":{"field":"mA","type":"quantitative","scale":{"domain":[93.4,402.9],"nice":false,"zero":false},"axis":{"orient":"bottom","values":[100,150,200,250,300,350,400],"tickSize":-9,"labelPadding":17,"labelFlush":false,"labelOverlap":false,"title":"m","titleFontSize":30,"titleFontStyle":"italic","titleFontWeight":"bold","titleX":300,"titleY":53,"titleAlign":"left","titleBaseline":"alphabetic"}},
    "y":{"field":"tanb","type":"quantitative","scale":{"domain":[0.28,40.09],"nice":false,"zero":false},"axis":{"orient":"left","values":[10,20,30,40],"tickSize":-9,"labelPadding":15,"labelFlush":false,"labelOverlap":false,"title":"tan","titleFontSize":27,"titleFontWeight":"bold","titleAngle":-90,"titleX":-33,"titleY":97,"titleAlign":"left","titleBaseline":"alphabetic"}},
    "color":{"field":"band","type":"nominal","scale":{"domain":["<80","80–90","90–100","100–110","110–122","122–125",">125"],"range":["#eff0fa","#b9bce3","#cbc59f","#e2c460","#e5a74d","#dc8846","#d98042"]},"legend":null},
    "detail":{"field":"shape"},
    "order":{"value":null}}},
  {"data":{"name":"A"},"transform":[{"filter":"isValid(datum.run)"}],"mark":{"type":"line","color":"#4a4a4a","strokeWidth":1},
   "encoding":{
    "x":{"field":"mA","type":"quantitative","scale":{"domain":[93.4,402.9],"nice":false,"zero":false},"axis":{"orient":"bottom","values":[100,110,120,130,140,150,160,170,180,190,200,210,220,230,240,250,260,270,280,290,300,310,320,330,340,350,360,370,380,390,400],"tickSize":-4.5,"labels":false,"title":"A","titleFontSize":18,"titleFontStyle":"italic","titleFontWeight":"bold","titleX":333,"titleY":57,"titleAlign":"left","titleBaseline":"alphabetic"}},
    "y":{"field":"tanb","type":"quantitative","scale":{"domain":[0.28,40.09],"nice":false,"zero":false},"axis":{"orient":"left","values":[2,4,6,8,10,12,14,16,18,20,22,24,26,28,30,32,34,36,38,40],"tickSize":-4.5,"labels":false,"title":"β","titleFontSize":27,"titleFontWeight":"bold","titleFontStyle":"italic","titleAngle":-90,"titleX":-33,"titleY":37,"titleAlign":"left","titleBaseline":"alphabetic"}},
    "strokeDash":{"field":"level","type":"nominal","scale":{"domain":["80","90","100","110","122","125"],"range":[[1.2,3],[6,4],[1.2,3],[6,4],[1.2,3],[6,4]]},"legend":null},
    "detail":{"field":"run"},
    "order":{"value":null}}},
  {"data":{"values":[{"label":"125","mA":308.9,"tanb":18.0},{"label":"122","mA":308.9,"tanb":6.8},{"label":"110","mA":308.9,"tanb":3.4},{"label":"100","mA":107.7,"tanb":7.4},{"label":"90","mA":106.4,"tanb":4.3},{"label":"80","mA":123.4,"tanb":1.2}]},
   "mark":{"type":"text","fontWeight":"bold","fontSize":14.5,"align":"center","baseline":"middle"},
   "encoding":{
    "x":{"field":"mA","type":"quantitative","scale":{"domain":[93.4,402.9],"nice":false,"zero":false},"axis":{"orient":"top","values":[100,150,200,250,300,350,400],"tickSize":-9,"labels":false,"title":null}},
    "y":{"field":"tanb","type":"quantitative","scale":{"domain":[0.28,40.09],"nice":false,"zero":false},"axis":{"orient":"right","values":[10,20,30,40],"tickSize":-9,"labels":false,"title":null}},
    "text":{"field":"label"}}},
  {"data":{"values":[{"text":"MSSM example","mA":387.2,"tanb":37.8},{"text":"Light Higgs mass","mA":314.0,"tanb":35.77},{"text":"[GeV]","mA":386.3,"tanb":35.77}]},
   "mark":{"type":"text","fontSize":20.5,"align":"right","baseline":"alphabetic"},
   "encoding":{
    "x":{"field":"mA","type":"quantitative","scale":{"domain":[93.4,402.9],"nice":false,"zero":false},"axis":{"orient":"top","values":[100,110,120,130,140,150,160,170,180,190,200,210,220,230,240,250,260,270,280,290,300,310,320,330,340,350,360,370,380,390,400],"tickSize":-4.5,"labels":false,"title":null}},
    "y":{"field":"tanb","type":"quantitative","scale":{"domain":[0.28,40.09],"nice":false,"zero":false},"axis":{"orient":"right","values":[2,4,6,8,10,12,14,16,18,20,22,24,26,28,30,32,34,36,38,40],"tickSize":-4.5,"labels":false,"title":null}},
    "text":{"field":"text"}}},
  {"data":{"values":[{"text":"m","mA":318.5,"tanb":35.77}]},
   "mark":{"type":"text","fontSize":21,"fontStyle":"italic","fontWeight":"bold","align":"left","baseline":"alphabetic"},
   "encoding":{
    "x":{"field":"mA","type":"quantitative","scale":{"domain":[93.4,402.9],"nice":false,"zero":false},"axis":{"orient":"bottom","ticks":false,"labels":false,"title":"[GeV]","titleFontSize":27,"titleFontWeight":"bold","titleX":450,"titleY":53,"titleAlign":"right","titleBaseline":"alphabetic"}},
    "y":{"field":"tanb","type":"quantitative","scale":{"domain":[0.28,40.09],"nice":false,"zero":false},"axis":null},
    "text":{"field":"text"}}},
  {"data":{"values":[{"text":"h","mA":333.8,"tanb":35.45}]},
   "mark":{"type":"text","fontSize":13.5,"fontStyle":"italic","fontWeight":"bold","align":"left","baseline":"alphabetic"},
   "encoding":{
    "x":{"field":"mA","type":"quantitative","scale":{"domain":[93.4,402.9],"nice":false,"zero":false},"axis":null},
    "y":{"field":"tanb","type":"quantitative","scale":{"domain":[0.28,40.09],"nice":false,"zero":false},"axis":null},
    "text":{"field":"text"}}}
 ]
},
{
 "width":453,"height":449,
 "title":{"text":"(b)","orient":"bottom","frame":"group","anchor":"middle","dx":-27,"offset":20,"font":"DejaVu Serif","fontSize":19,"fontWeight":"normal","color":"#000"},
 "resolve":{"axis":{"x":"independent","y":"independent"}},
 "layer":[
  {"data":{"name":"B"},"mark":{"type":"line","filled":true,"interpolate":"linear-closed","strokeWidth":0},
   "encoding":{
    "x":{"field":"mA","type":"quantitative","scale":{"domain":[93.4,402.9],"nice":false,"zero":false},"axis":{"orient":"bottom","values":[100,150,200,250,300,350,400],"tickSize":-9,"labelPadding":17,"labelFlush":false,"labelOverlap":false,"title":"m","titleFontSize":30,"titleFontStyle":"italic","titleFontWeight":"bold","titleX":300,"titleY":53,"titleAlign":"left","titleBaseline":"alphabetic"}},
    "y":{"field":"tanb","type":"quantitative","scale":{"domain":[0.28,40.09],"nice":false,"zero":false},"axis":{"orient":"left","values":[10,20,30,40],"tickSize":-9,"labelPadding":15,"labelFlush":false,"labelOverlap":false,"title":"tan","titleFontSize":27,"titleFontWeight":"bold","titleAngle":-90,"titleX":-33,"titleY":97,"titleAlign":"left","titleBaseline":"alphabetic"}},
    "color":{"field":"band","type":"nominal","scale":{"domain":["<0.1","0.1–0.3","0.3–0.5","0.5–0.7","0.7–0.9","0.9–0.95","0.95–0.99","0.99–0.999",">0.999"],"range":["#eceefa","#b9bde6","#cac4a0","#e2c45f","#e5a74d","#e0924a","#dc8946","#da8444","#d98042"]},"legend":null},
    "detail":{"field":"shape"},
    "order":{"value":null}}},
  {"data":{"name":"B"},"transform":[{"filter":"isValid(datum.run)"}],"mark":{"type":"line","color":"#4a4a4a","strokeWidth":1},
   "encoding":{
    "x":{"field":"mA","type":"quantitative","scale":{"domain":[93.4,402.9],"nice":false,"zero":false},"axis":{"orient":"bottom","values":[100,110,120,130,140,150,160,170,180,190,200,210,220,230,240,250,260,270,280,290,300,310,320,330,340,350,360,370,380,390,400],"tickSize":-4.5,"labels":false,"title":"A","titleFontSize":18,"titleFontStyle":"italic","titleFontWeight":"bold","titleX":333,"titleY":57,"titleAlign":"left","titleBaseline":"alphabetic"}},
    "y":{"field":"tanb","type":"quantitative","scale":{"domain":[0.28,40.09],"nice":false,"zero":false},"axis":{"orient":"left","values":[2,4,6,8,10,12,14,16,18,20,22,24,26,28,30,32,34,36,38,40],"tickSize":-4.5,"labels":false,"title":"β","titleFontSize":27,"titleFontWeight":"bold","titleFontStyle":"italic","titleAngle":-90,"titleX":-33,"titleY":37,"titleAlign":"left","titleBaseline":"alphabetic"}},
    "strokeDash":{"field":"level","type":"nominal","scale":{"domain":["0.1","0.3","0.5","0.7","0.9","0.95","0.99","0.999"],"range":[[6,4],[1,0],[6,4],[1,0],[6,4],[1,0],[6,4],[1,0]]},"legend":null},
    "detail":{"field":"run"},
    "order":{"value":null}}},
  {"data":{"values":[{"label":"0.1","mA":108.2,"tanb":15.1},{"label":"0.3","mA":108.2,"tanb":7.7},{"label":"0.5","mA":120.5,"tanb":5.8},{"label":"0.7","mA":125.3,"tanb":2.7},{"label":"0.9","mA":162.9,"tanb":2.7},{"label":"0.95","mA":195.7,"tanb":5.25},{"label":"0.99","mA":260.6,"tanb":5.25},{"label":"0.999","mA":263.3,"tanb":17.9}]},
   "mark":{"type":"text","fontWeight":"bold","fontSize":14.5,"align":"center","baseline":"middle"},
   "encoding":{
    "x":{"field":"mA","type":"quantitative","scale":{"domain":[93.4,402.9],"nice":false,"zero":false},"axis":{"orient":"top","values":[100,150,200,250,300,350,400],"tickSize":-9,"labels":false,"title":null}},
    "y":{"field":"tanb","type":"quantitative","scale":{"domain":[0.28,40.09],"nice":false,"zero":false},"axis":{"orient":"right","values":[10,20,30,40],"tickSize":-9,"labels":false,"title":null}},
    "text":{"field":"label"}}},
  {"data":{"values":[{"text":"MSSM example","mA":387.2,"tanb":37.85}]},
   "mark":{"type":"text","fontSize":20.5,"align":"right","baseline":"alphabetic"},
   "encoding":{
    "x":{"field":"mA","type":"quantitative","scale":{"domain":[93.4,402.9],"nice":false,"zero":false},"axis":{"orient":"top","values":[100,110,120,130,140,150,160,170,180,190,200,210,220,230,240,250,260,270,280,290,300,310,320,330,340,350,360,370,380,390,400],"tickSize":-4.5,"labels":false,"title":null}},
    "y":{"field":"tanb","type":"quantitative","scale":{"domain":[0.28,40.09],"nice":false,"zero":false},"axis":{"orient":"right","values":[2,4,6,8,10,12,14,16,18,20,22,24,26,28,30,32,34,36,38,40],"tickSize":-4.5,"labels":false,"title":null}},
    "text":{"field":"text"}}},
  {"data":{"values":[{"text":"σ","mA":305.0,"tanb":35.48},{"text":"/σ","mA":331.6,"tanb":35.48},{"text":"m","mA":312.4,"tanb":32.47},{"text":"=","mA":347.7,"tanb":32.47},{"text":"m","mA":360.5,"tanb":32.47}]},
   "mark":{"type":"text","fontSize":21,"fontStyle":"italic","fontWeight":"bold","align":"left","baseline":"alphabetic"},
   "encoding":{
    "x":{"field":"mA","type":"quantitative","scale":{"domain":[93.4,402.9],"nice":false,"zero":false},"axis":{"orient":"bottom","ticks":false,"labels":false,"title":"[GeV]","titleFontSize":27,"titleFontWeight":"bold","titleX":450,"titleY":53,"titleAlign":"right","titleBaseline":"alphabetic"}},
    "y":{"field":"tanb","type":"quantitative","scale":{"domain":[0.28,40.09],"nice":false,"zero":false},"axis":null},
    "text":{"field":"text"}}},
  {"data":{"values":[{"text":"DY","mA":316.0,"tanb":34.74},{"text":"DY,SM","mA":346.7,"tanb":34.74},{"text":"SM","mA":326.9,"tanb":33.35}]},
   "mark":{"type":"text","fontSize":12,"fontWeight":"bold","align":"left","baseline":"alphabetic"},
   "encoding":{
    "x":{"field":"mA","type":"quantitative","scale":{"domain":[93.4,402.9],"nice":false,"zero":false},"axis":null},
    "y":{"field":"tanb","type":"quantitative","scale":{"domain":[0.28,40.09],"nice":false,"zero":false},"axis":null},
    "text":{"field":"text"}}},
  {"data":{"values":[{"text":"Zh","mA":316.0,"tanb":36.45},{"text":"ZH","mA":346.7,"tanb":36.45},{"text":"H","mA":327.0,"tanb":32.0},{"text":"h","mA":376.6,"tanb":32.0}]},
   "mark":{"type":"text","fontSize":12.5,"fontStyle":"italic","fontWeight":"bold","align":"left","baseline":"alphabetic"},
   "encoding":{
    "x":{"field":"mA","type":"quantitative","scale":{"domain":[93.4,402.9],"nice":false,"zero":false},"axis":null},
    "y":{"field":"tanb","type":"quantitative","scale":{"domain":[0.28,40.09],"nice":false,"zero":false},"axis":null},
    "text":{"field":"text"}}}
 ]
},
{
 "width":453,"height":449,
 "title":{"text":"(c)","orient":"bottom","frame":"group","anchor":"middle","dx":-27,"offset":20,"font":"DejaVu Serif","fontSize":19,"fontWeight":"normal","color":"#000"},
 "resolve":{"axis":{"x":"independent","y":"independent"}},
 "layer":[
  {"data":{"name":"C"},"mark":{"type":"line","filled":true,"interpolate":"linear-closed","strokeWidth":0},
   "encoding":{
    "x":{"field":"mA","type":"quantitative","scale":{"domain":[93.4,402.9],"nice":false,"zero":false},"axis":{"orient":"bottom","values":[100,150,200,250,300,350,400],"tickSize":-9,"labelPadding":17,"labelFlush":false,"labelOverlap":false,"title":"m","titleFontSize":30,"titleFontStyle":"italic","titleFontWeight":"bold","titleX":300,"titleY":53,"titleAlign":"left","titleBaseline":"alphabetic"}},
    "y":{"field":"tanb","type":"quantitative","scale":{"domain":[0.28,40.09],"nice":false,"zero":false},"axis":{"orient":"left","values":[10,20,30,40],"tickSize":-9,"labelPadding":15,"labelFlush":false,"labelOverlap":false,"title":"tan","titleFontSize":27,"titleFontWeight":"bold","titleAngle":-90,"titleX":-33,"titleY":97,"titleAlign":"left","titleBaseline":"alphabetic"}},
    "color":{"field":"band","type":"nominal","scale":{"domain":["<0.1","0.1–0.5","0.5–0.9","0.9–1.1","1.1–2","2–10",">10"],"range":["#f3f4fc","#b9c0ef","#bbbcc2","#c4bfa5","#cdc59b","#e2c35c","#dc8444"]},"legend":null},
    "detail":{"field":"shape"},
    "order":{"value":null}}},
  {"data":{"name":"C"},"transform":[{"filter":"isValid(datum.run)"}],"mark":{"type":"line","color":"#4a4a4a","strokeWidth":1},
   "encoding":{
    "x":{"field":"mA","type":"quantitative","scale":{"domain":[93.4,402.9],"nice":false,"zero":false},"axis":{"orient":"bottom","values":[100,110,120,130,140,150,160,170,180,190,200,210,220,230,240,250,260,270,280,290,300,310,320,330,340,350,360,370,380,390,400],"tickSize":-4.5,"labels":false,"title":"A","titleFontSize":18,"titleFontStyle":"italic","titleFontWeight":"bold","titleX":333,"titleY":57,"titleAlign":"left","titleBaseline":"alphabetic"}},
    "y":{"field":"tanb","type":"quantitative","scale":{"domain":[0.28,40.09],"nice":false,"zero":false},"axis":{"orient":"left","values":[2,4,6,8,10,12,14,16,18,20,22,24,26,28,30,32,34,36,38,40],"tickSize":-4.5,"labels":false,"title":"β","titleFontSize":27,"titleFontWeight":"bold","titleFontStyle":"italic","titleAngle":-90,"titleX":-33,"titleY":37,"titleAlign":"left","titleBaseline":"alphabetic"}},
    "strokeDash":{"field":"level","type":"nominal","scale":{"domain":["0.1","0.5","0.9","1.1","2","10"],"range":[[6,4],[1,0],[6,4],[1,0],[6,4],[1,0]]},"legend":null},
    "detail":{"field":"run"},
    "order":{"value":null}}},
  {"data":{"values":[{"label":"0.1","mA":108.4,"tanb":11.8},{"label":"0.5","mA":139.8,"tanb":9.1},{"label":"0.9","mA":175.4,"tanb":9.1},{"label":"1.1","mA":256.1,"tanb":6.2},{"label":"2","mA":275.2,"tanb":4.6},{"label":"10","mA":278.6,"tanb":2.1}]},
   "mark":{"type":"text","fontWeight":"bold","fontSize":14.5,"align":"center","baseline":"middle"},
   "encoding":{
    "x":{"field":"mA","type":"quantitative","scale":{"domain":[93.4,402.9],"nice":false,"zero":false},"axis":{"orient":"top","values":[100,150,200,250,300,350,400],"tickSize":-9,"labels":false,"title":null}},
    "y":{"field":"tanb","type":"quantitative","scale":{"domain":[0.28,40.09],"nice":false,"zero":false},"axis":{"orient":"right","values":[10,20,30,40],"tickSize":-9,"labels":false,"title":null}},
    "text":{"field":"label"}}},
  {"data":{"values":[{"text":"MSSM example","mA":387.2,"tanb":37.61}]},
   "mark":{"type":"text","fontSize":20.5,"align":"right","baseline":"alphabetic"},
   "encoding":{
    "x":{"field":"mA","type":"quantitative","scale":{"domain":[93.4,402.9],"nice":false,"zero":false},"axis":{"orient":"top","values":[100,110,120,130,140,150,160,170,180,190,200,210,220,230,240,250,260,270,280,290,300,310,320,330,340,350,360,370,380,390,400],"tickSize":-4.5,"labels":false,"title":null}},
    "y":{"field":"tanb","type":"quantitative","scale":{"domain":[0.28,40.09],"nice":false,"zero":false},"axis":{"orient":"right","values":[2,4,6,8,10,12,14,16,18,20,22,24,26,28,30,32,34,36,38,40],"tickSize":-4.5,"labels":false,"title":null}},
    "text":{"field":"text"}}},
  {"data":{"values":[{"text":"m","mA":311.9,"tanb":32.4},{"text":"=","mA":347.2,"tanb":32.4},{"text":"m","mA":360.0,"tanb":32.4}]},
   "mark":{"type":"text","fontSize":21,"fontStyle":"italic","fontWeight":"bold","align":"left","baseline":"alphabetic"},
   "encoding":{
    "x":{"field":"mA","type":"quantitative","scale":{"domain":[93.4,402.9],"nice":false,"zero":false},"axis":{"orient":"bottom","ticks":false,"labels":false,"title":"[GeV]","titleFontSize":27,"titleFontWeight":"bold","titleX":450,"titleY":53,"titleAlign":"right","titleBaseline":"alphabetic"}},
    "y":{"field":"tanb","type":"quantitative","scale":{"domain":[0.28,40.09],"nice":false,"zero":false},"axis":null},
    "text":{"field":"text"}}},
  {"data":{"values":[{"text":"σ(gg → Zh)/σ(gg → ZH)","mA":178.8,"tanb":34.4}]},
   "mark":{"type":"text","fontSize":22,"fontStyle":"italic","fontWeight":"bold","align":"left","baseline":"alphabetic"},
   "encoding":{
    "x":{"field":"mA","type":"quantitative","scale":{"domain":[93.4,402.9],"nice":false,"zero":false},"axis":null},
    "y":{"field":"tanb","type":"quantitative","scale":{"domain":[0.28,40.09],"nice":false,"zero":false},"axis":null},
    "text":{"field":"text"}}},
  {"data":{"values":[{"text":"SM","mA":372.2,"tanb":34.16}]},
   "mark":{"type":"text","fontSize":12.5,"fontWeight":"bold","align":"left","baseline":"alphabetic"},
   "encoding":{
    "x":{"field":"mA","type":"quantitative","scale":{"domain":[93.4,402.9],"nice":false,"zero":false},"axis":null},
    "y":{"field":"tanb","type":"quantitative","scale":{"domain":[0.28,40.09],"nice":false,"zero":false},"axis":null},
    "text":{"field":"text"}}},
  {"data":{"values":[{"text":"SM","mA":326.4,"tanb":33.25}]},
   "mark":{"type":"text","fontSize":11,"fontWeight":"bold","align":"left","baseline":"alphabetic"},
   "encoding":{
    "x":{"field":"mA","type":"quantitative","scale":{"domain":[93.4,402.9],"nice":false,"zero":false},"axis":null},
    "y":{"field":"tanb","type":"quantitative","scale":{"domain":[0.28,40.09],"nice":false,"zero":false},"axis":null},
    "text":{"field":"text"}}},
  {"data":{"values":[{"text":"H","mA":326.6,"tanb":31.93},{"text":"h","mA":376.1,"tanb":31.93}]},
   "mark":{"type":"text","fontSize":13.5,"fontStyle":"italic","fontWeight":"bold","align":"left","baseline":"alphabetic"},
   "encoding":{
    "x":{"field":"mA","type":"quantitative","scale":{"domain":[93.4,402.9],"nice":false,"zero":false},"axis":null},
    "y":{"field":"tanb","type":"quantitative","scale":{"domain":[0.28,40.09],"nice":false,"zero":false},"axis":null},
    "text":{"field":"text"}}}
 ]
},
{
 "width":453,"height":449,
 "title":{"text":"(d)","orient":"bottom","frame":"group","anchor":"middle","dx":-27,"offset":20,"font":"DejaVu Serif","fontSize":19,"fontWeight":"normal","color":"#000"},
 "resolve":{"axis":{"x":"independent","y":"independent"}},
 "layer":[
  {"data":{"name":"D"},"mark":{"type":"line","filled":true,"interpolate":"linear-closed","strokeWidth":0},
   "encoding":{
    "x":{"field":"mA","type":"quantitative","scale":{"domain":[93.4,402.9],"nice":false,"zero":false},"axis":{"orient":"bottom","values":[100,150,200,250,300,350,400],"tickSize":-9,"labelPadding":17,"labelFlush":false,"labelOverlap":false,"title":"m","titleFontSize":30,"titleFontStyle":"italic","titleFontWeight":"bold","titleX":300,"titleY":53,"titleAlign":"left","titleBaseline":"alphabetic"}},
    "y":{"field":"tanb","type":"quantitative","scale":{"domain":[0.28,40.09],"nice":false,"zero":false},"axis":{"orient":"left","values":[10,20,30,40],"tickSize":-9,"labelPadding":15,"labelFlush":false,"labelOverlap":false,"title":"tan","titleFontSize":27,"titleFontWeight":"bold","titleAngle":-90,"titleX":-33,"titleY":97,"titleAlign":"left","titleBaseline":"alphabetic"}},
    "color":{"field":"band","type":"nominal","scale":{"domain":["<1","<2","2–10","10–50","50–100","100–200",">200"],"range":["#ffffff","#e2e4f7","#b8bcd4","#d6c57d","#e6bd55","#e3a64c","#dc8044"]},"legend":null},
    "detail":{"field":"shape"},
    "order":{"value":null}}},
  {"data":{"name":"D"},"transform":[{"filter":"isValid(datum.run)"}],"mark":{"type":"line","color":"#4a4a4a","strokeWidth":1},
   "encoding":{
    "x":{"field":"mA","type":"quantitative","scale":{"domain":[93.4,402.9],"nice":false,"zero":false},"axis":{"orient":"bottom","values":[100,110,120,130,140,150,160,170,180,190,200,210,220,230,240,250,260,270,280,290,300,310,320,330,340,350,360,370,380,390,400],"tickSize":-4.5,"labels":false,"title":"A","titleFontSize":18,"titleFontStyle":"italic","titleFontWeight":"bold","titleX":333,"titleY":57,"titleAlign":"left","titleBaseline":"alphabetic"}},
    "y":{"field":"tanb","type":"quantitative","scale":{"domain":[0.28,40.09],"nice":false,"zero":false},"axis":{"orient":"left","values":[2,4,6,8,10,12,14,16,18,20,22,24,26,28,30,32,34,36,38,40],"tickSize":-4.5,"labels":false,"title":"β","titleFontSize":27,"titleFontWeight":"bold","titleFontStyle":"italic","titleAngle":-90,"titleX":-33,"titleY":37,"titleAlign":"left","titleBaseline":"alphabetic"}},
    "strokeDash":{"field":"level","type":"nominal","scale":{"domain":["1","2","10","50","100","200"],"range":[[1,0],[6,4],[1,0],[6,4],[1,0],[6,4]]},"legend":null},
    "detail":{"field":"run"},
    "order":{"value":null}}},
  {"data":{"values":[{"label":"200","mA":110.3,"tanb":24.2},{"label":"100","mA":110.3,"tanb":16.8},{"label":"50","mA":106.8,"tanb":11.8},{"label":"10","mA":106.8,"tanb":5.0},{"label":"2","mA":158.1,"tanb":2.85},{"label":"2","mA":210.7,"tanb":18.0},{"label":"10","mA":233.3,"tanb":18.0},{"label":"50","mA":255.2,"tanb":13.05},{"label":"100","mA":257.9,"tanb":8.35},{"label":"200","mA":249.0,"tanb":5.25}]},
   "mark":{"type":"text","fontWeight":"bold","fontSize":14.5,"align":"center","baseline":"middle"},
   "encoding":{
    "x":{"field":"mA","type":"quantitative","scale":{"domain":[93.4,402.9],"nice":false,"zero":false},"axis":{"orient":"top","values":[100,150,200,250,300,350,400],"tickSize":-9,"labels":false,"title":null}},
    "y":{"field":"tanb","type":"quantitative","scale":{"domain":[0.28,40.09],"nice":false,"zero":false},"axis":{"orient":"right","values":[10,20,30,40],"tickSize":-9,"labels":false,"title":null}},
    "text":{"field":"label"}}},
  {"data":{"values":[{"text":"MSSM example","mA":387.2,"tanb":37.61}]},
   "mark":{"type":"text","fontSize":20.5,"align":"right","baseline":"alphabetic"},
   "encoding":{
    "x":{"field":"mA","type":"quantitative","scale":{"domain":[93.4,402.9],"nice":false,"zero":false},"axis":{"orient":"top","values":[100,110,120,130,140,150,160,170,180,190,200,210,220,230,240,250,260,270,280,290,300,310,320,330,340,350,360,370,380,390,400],"tickSize":-4.5,"labels":false,"title":null}},
    "y":{"field":"tanb","type":"quantitative","scale":{"domain":[0.28,40.09],"nice":false,"zero":false},"axis":{"orient":"right","values":[2,4,6,8,10,12,14,16,18,20,22,24,26,28,30,32,34,36,38,40],"tickSize":-4.5,"labels":false,"title":null}},
    "text":{"field":"text"}}},
  {"data":{"values":[{"text":"m","mA":312.4,"tanb":32.4},{"text":"=","mA":347.7,"tanb":32.4},{"text":"m","mA":360.5,"tanb":32.4}]},
   "mark":{"type":"text","fontSize":21,"fontStyle":"italic","fontWeight":"bold","align":"left","baseline":"alphabetic"},
   "encoding":{
    "x":{"field":"mA","type":"quantitative","scale":{"domain":[93.4,402.9],"nice":false,"zero":false},"axis":{"orient":"bottom","ticks":false,"labels":false,"title":"[GeV]","titleFontSize":27,"titleFontWeight":"bold","titleX":450,"titleY":53,"titleAlign":"right","titleBaseline":"alphabetic"}},
    "y":{"field":"tanb","type":"quantitative","scale":{"domain":[0.28,40.09],"nice":false,"zero":false},"axis":null},
    "text":{"field":"text"}}},
  {"data":{"values":[{"text":"σ(bb̄ → Zh)/σ(bb̄ → ZH)","mA":182.0,"tanb":34.4}]},
   "mark":{"type":"text","fontSize":22,"fontStyle":"italic","fontWeight":"bold","align":"left","baseline":"alphabetic"},
   "encoding":{
    "x":{"field":"mA","type":"quantitative","scale":{"domain":[93.4,402.9],"nice":false,"zero":false},"axis":null},
    "y":{"field":"tanb","type":"quantitative","scale":{"domain":[0.28,40.09],"nice":false,"zero":false},"axis":null},
    "text":{"field":"text"}}},
  {"data":{"values":[{"text":"SM","mA":374.7,"tanb":34.16}]},
   "mark":{"type":"text","fontSize":12.5,"fontWeight":"bold","align":"left","baseline":"alphabetic"},
   "encoding":{
    "x":{"field":"mA","type":"quantitative","scale":{"domain":[93.4,402.9],"nice":false,"zero":false},"axis":null},
    "y":{"field":"tanb","type":"quantitative","scale":{"domain":[0.28,40.09],"nice":false,"zero":false},"axis":null},
    "text":{"field":"text"}}},
  {"data":{"values":[{"text":"SM","mA":326.9,"tanb":33.25}]},
   "mark":{"type":"text","fontSize":11,"fontWeight":"bold","align":"left","baseline":"alphabetic"},
   "encoding":{
    "x":{"field":"mA","type":"quantitative","scale":{"domain":[93.4,402.9],"nice":false,"zero":false},"axis":null},
    "y":{"field":"tanb","type":"quantitative","scale":{"domain":[0.28,40.09],"nice":false,"zero":false},"axis":null},
    "text":{"field":"text"}}},
  {"data":{"values":[{"text":"H","mA":327.1,"tanb":31.93},{"text":"h","mA":376.6,"tanb":31.93}]},
   "mark":{"type":"text","fontSize":13.5,"fontStyle":"italic","fontWeight":"bold","align":"left","baseline":"alphabetic"},
   "encoding":{
    "x":{"field":"mA","type":"quantitative","scale":{"domain":[93.4,402.9],"nice":false,"zero":false},"axis":null},
    "y":{"field":"tanb","type":"quantitative","scale":{"domain":[0.28,40.09],"nice":false,"zero":false},"axis":null},
    "text":{"field":"text"}}}
 ]
}
]
}
